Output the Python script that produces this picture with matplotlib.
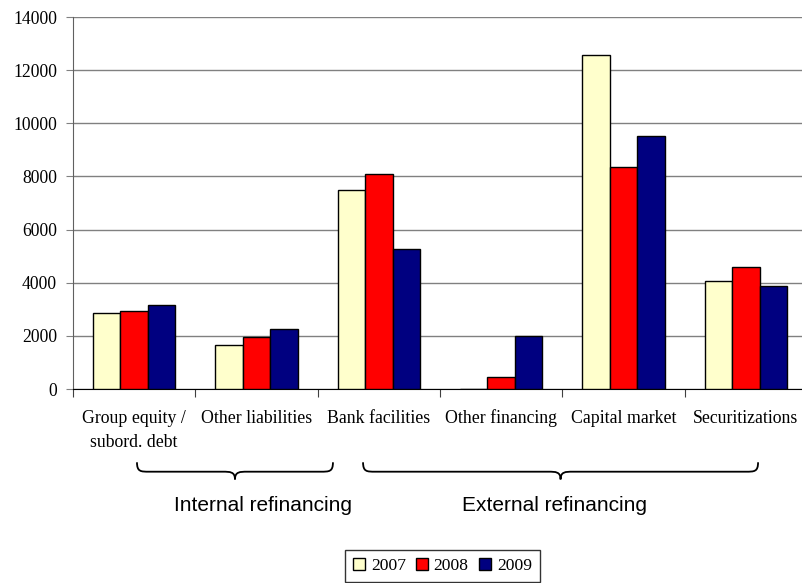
import matplotlib
matplotlib.use("Agg")
import matplotlib.pyplot as plt
from matplotlib.path import Path
from matplotlib.patches import PathPatch
import matplotlib.transforms as mtransforms
import numpy as np

categories = ["Group equity /\nsubord. debt", "Other liabilities", "Bank facilities",
              "Other financing", "Capital market", "Securitizations"]
years = ["2007", "2008", "2009"]
values_2007 = [2870, 1650, 7490, 0, 12570, 4080]
values_2008 = [2930, 1945, 8075, 440, 8340, 4600]
values_2009 = [3160, 2245, 5255, 2005, 9510, 3865]
colors = ["#FFFFCC", "#FF0000", "#000080"]
yticks = [0, 2000, 4000, 6000, 8000, 10000, 12000, 14000]

# (label, brace start, brace end, label centre) in category units
groups = [("Internal refinancing", 0.023, 1.625, 1.053),
          ("External refinancing", 1.871, 5.10, 3.432)]

W, H = 802, 583
fig = plt.figure(figsize=(W / 100, H / 100), dpi=100)
ax = fig.add_axes([73 / W, (H - 389) / H, (807 - 73) / W, (389 - 17) / H])

x = np.arange(len(categories))
bw = 0.225
for i, (vals, c, lab) in enumerate(zip([values_2007, values_2008, values_2009], colors, years)):
    ax.bar(x + (i - 1) * bw, vals, bw, color=c, edgecolor="black", linewidth=1.0,
           label=lab, zorder=3)

ax.set_xlim(-0.5, len(categories) - 0.5)
ax.set_ylim(0, 14000)
ax.set_yticks(yticks)
ax.set_yticklabels([str(t) for t in yticks])
ax.yaxis.grid(True, color="#808080", linewidth=1.0, zorder=0)
ax.set_axisbelow(True)

# category boundaries carry the tick marks; the names sit between them
ax.set_xticks(np.arange(len(categories) + 1) - 0.5)
ax.set_xticklabels([])
ax.tick_params(axis="x", length=6, color="#404040", direction="out")
ax.tick_params(axis="y", length=5, color="#808080", direction="out", pad=6.5)
for lab in ax.get_yticklabels():
    lab.set_family("Liberation Serif")
    lab.set_fontsize(12.7)

trans = mtransforms.blended_transform_factory(ax.transData, ax.transAxes)
for i, cat in enumerate(categories):
    for j, line in enumerate(cat.split("\n")):
        off = mtransforms.ScaledTranslation(0, -(34 + 24 * j) / 100, fig.dpi_scale_trans)
        ax.text(i, 0, line, transform=trans + off, ha="center", va="baseline",
                fontsize=12.8, family="Liberation Serif", clip_on=False)

for s in ["top", "right"]:
    ax.spines[s].set_visible(False)
ax.spines["left"].set_color("#606060")
ax.spines["bottom"].set_color("black")


# curly braces grouping the categories
def brace(x0, x1, ytop, ybot):
    xm = (x0 + x1) / 2
    ym = ytop + (ybot - ytop) * 0.55
    r = 0.1
    verts = [(x0, ytop), (x0, ym), (x0 + r * 0.3, ym), (x0 + r, ym),
             (xm - r, ym), (xm - r * 0.4, ym), (xm, ym), (xm, ybot),
             (xm, ym), (xm + r * 0.4, ym), (xm + r, ym),
             (x1 - r, ym), (x1 - r * 0.3, ym), (x1, ym), (x1, ytop)]
    codes = [Path.MOVETO, Path.CURVE4, Path.CURVE4, Path.CURVE4,
             Path.LINETO, Path.CURVE4, Path.CURVE4, Path.CURVE4,
             Path.CURVE4, Path.CURVE4, Path.CURVE4,
             Path.LINETO, Path.CURVE4, Path.CURVE4, Path.CURVE4]
    p = PathPatch(Path(verts, codes), transform=trans, fill=False,
                  edgecolor="black", linewidth=1.3, clip_on=False)
    ax.add_patch(p)


for name, g0, g1, gc in groups:
    brace(g0, g1, -0.197, -0.243)
    ax.text(gc, -0.313, name, transform=trans, ha="center", va="center",
            fontsize=15, family="Liberation Sans")

leg = fig.legend(loc="center", bbox_to_anchor=(442.5 / W, 1 - 566 / H), ncol=3,
                 frameon=True, fancybox=False, edgecolor="black",
                 prop={"family": "Liberation Serif", "size": 12.6},
                 handlelength=0.65, handleheight=0.65, handletextpad=0.35,
                 columnspacing=0.6, borderpad=0.45, borderaxespad=0)
leg.get_frame().set_linewidth(1.0)

fig.savefig("out.png", dpi=100)
